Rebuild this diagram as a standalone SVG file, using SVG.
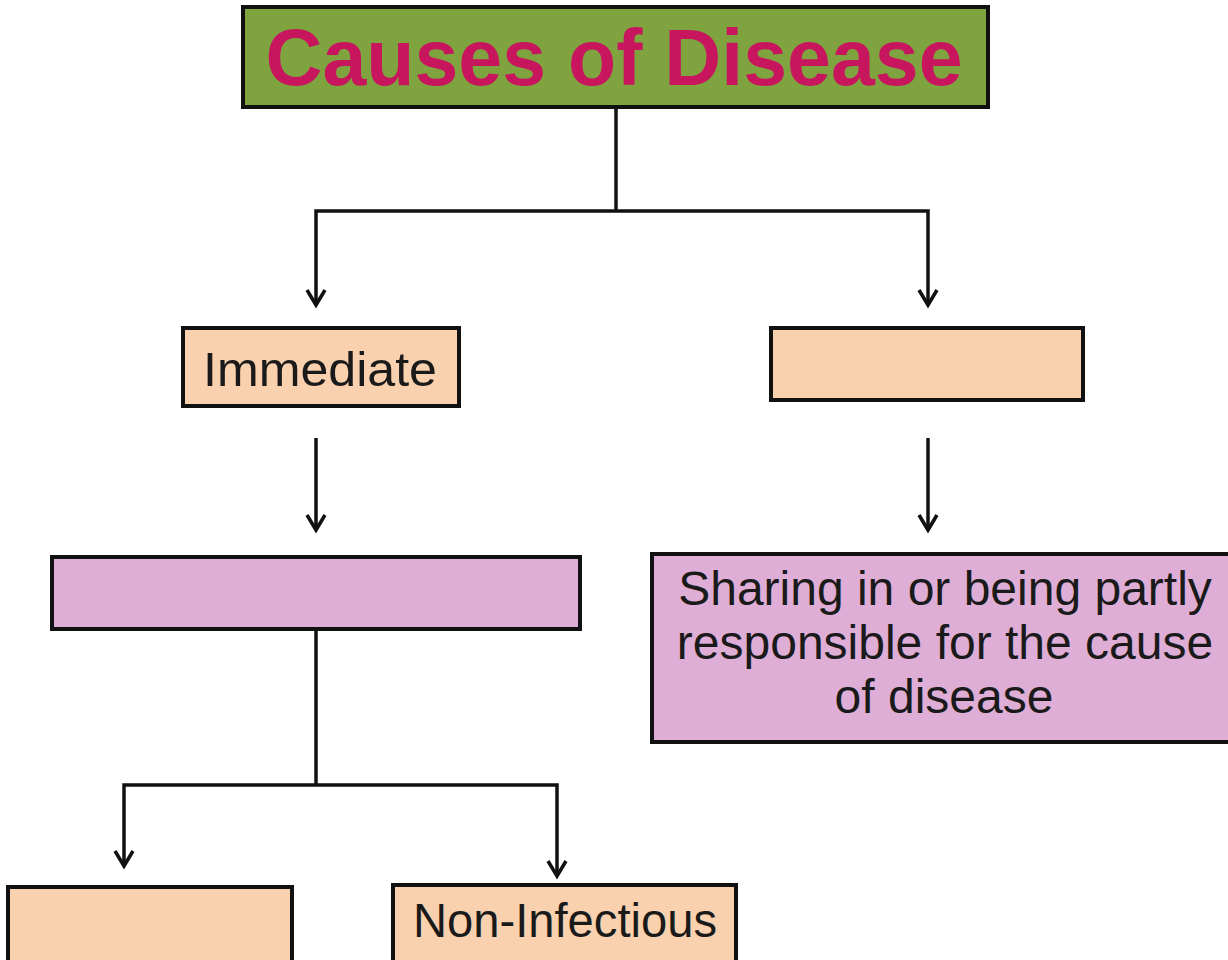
<svg xmlns="http://www.w3.org/2000/svg" width="1228" height="960" viewBox="0 0 1228 960">
<style>
.box{stroke:#111;stroke-width:4}
.peach{fill:#FAD1AE}
.purple{fill:#DFAED6}
.t{font-family:"Liberation Sans",Arial,sans-serif;font-size:48px;fill:#1a1a1a;text-anchor:middle}
.c{fill:none;stroke:#111;stroke-width:3.5}
</style>
<defs>
<marker id="ah" viewBox="0 0 22 22" refX="18" refY="11" markerWidth="22" markerHeight="22" markerUnits="userSpaceOnUse" orient="auto-start-reverse">
<path d="M3 2 L18 11 L3 20" fill="none" stroke="#111" stroke-width="3.5"/>
</marker>
</defs>
<rect width="1228" height="960" fill="#fff"/>
<g id="connectors">
<path class="c" d="M616 107 V211"/>
<path class="c" d="M316 305 V211 H928 V305" marker-start="url(#ah)" marker-end="url(#ah)"/>
<path class="c" d="M316 438 V530" marker-end="url(#ah)"/>
<path class="c" d="M928 438 V530" marker-end="url(#ah)"/>
<path class="c" d="M316 629 V785"/>
<path class="c" d="M124 866 V785 H557 V876" marker-start="url(#ah)" marker-end="url(#ah)"/>
</g>
<g id="title">
<rect class="box" x="243" y="7" width="745" height="100" fill="#7FA33E"/>
<text x="614" y="85" font-family="'Liberation Sans',Arial,sans-serif" font-weight="bold" font-size="80" fill="#C8165E" text-anchor="middle" textLength="697" lengthAdjust="spacingAndGlyphs">Causes of Disease</text>
</g>
<g id="immediate">
<rect class="box peach" x="183" y="328" width="276" height="78"/>
<text class="t" x="320" y="386" font-size="52" textLength="234" lengthAdjust="spacingAndGlyphs">Immediate</text>
</g>
<g id="right-peach">
<rect class="box peach" x="771" y="328" width="312" height="72"/>
</g>
<g id="left-purple">
<rect class="box purple" x="52" y="557" width="528" height="72"/>
</g>
<g id="right-purple">
<rect class="box purple" x="652" y="554" width="580" height="188"/>
<text class="t" x="945" y="605">Sharing in or being partly</text>
<text class="t" x="945" y="659">responsible for the cause</text>
<text class="t" x="944" y="713">of disease</text>
</g>
<g id="bottom-left">
<rect class="box peach" x="8" y="887" width="284" height="80"/>
</g>
<g id="non-infectious">
<rect class="box peach" x="393" y="885" width="343" height="82"/>
<text class="t" x="565" y="937" font-size="46" textLength="304" lengthAdjust="spacingAndGlyphs">Non-Infectious</text>
</g>
</svg>
